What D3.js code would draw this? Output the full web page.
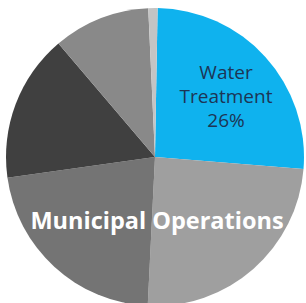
<!DOCTYPE html>
<html>
<head>
<meta charset="utf-8">
<script src="https://cdn.jsdelivr.net/npm/d3@7"></script>
<style>
  html, body { margin: 0; padding: 0; background: #fff; }
  svg { display: block; }
</style>
</head>
<body>
<div id="chart"></div>
<script>
// slices, clockwise from the top
var categories = ["Water Treatment", "Municipal Ops A", "Municipal Ops B", "Dark", "Mid", "Other"];
var values = [26, 24.5, 22, 16, 10.5, 1];
var colors = ["#0fb2ee", "#9f9f9f", "#747474", "#404040", "#898989", "#c4c4c4"];

var width = 306, height = 303;
var cx = 155, cy = 157, radius = 149;

var svg = d3.select("#chart")
	.append("svg")
	.attr("width", width)
	.attr("height", height);

var pie = d3.pie()
	.sort(null)
	.value(function(d) { return d; })
	.startAngle(1 * Math.PI / 180)
	.endAngle(361 * Math.PI / 180);

var arc = d3.arc()
	.innerRadius(0)
	.outerRadius(radius);

var g = svg.append("g")
	.attr("transform", "translate(" + cx + "," + cy + ")");

g.selectAll(".slice")
	.data(pie(values))
	.enter().append("path")
	.attr("class", "slice")
	.attr("d", arc)
	.style("fill", function(d, i) { return colors[i]; });

// label in the blue slice
var waterLines = ["Water", "Treatment", "26%"];
svg.append("g").selectAll("text")
	.data(waterLines)
	.enter().append("text")
	.attr("x", 226)
	.attr("y", function(d, i) { return 79 + i * 24; })
	.attr("text-anchor", "middle")
	.attr("font-family", "'Open Sans', sans-serif")
	.attr("font-size", 19)
	.style("fill", "#1d3555")
	.text(function(d) { return d; });

svg.append("text")
	.attr("x", 157)
	.attr("y", 229)
	.attr("text-anchor", "middle")
	.attr("font-family", "'Open Sans', sans-serif")
	.attr("font-weight", "bold")
	.attr("font-size", 23.5)
	.style("fill", "#ffffff")
	.text("Municipal Operations");
</script>
</body>
</html>
